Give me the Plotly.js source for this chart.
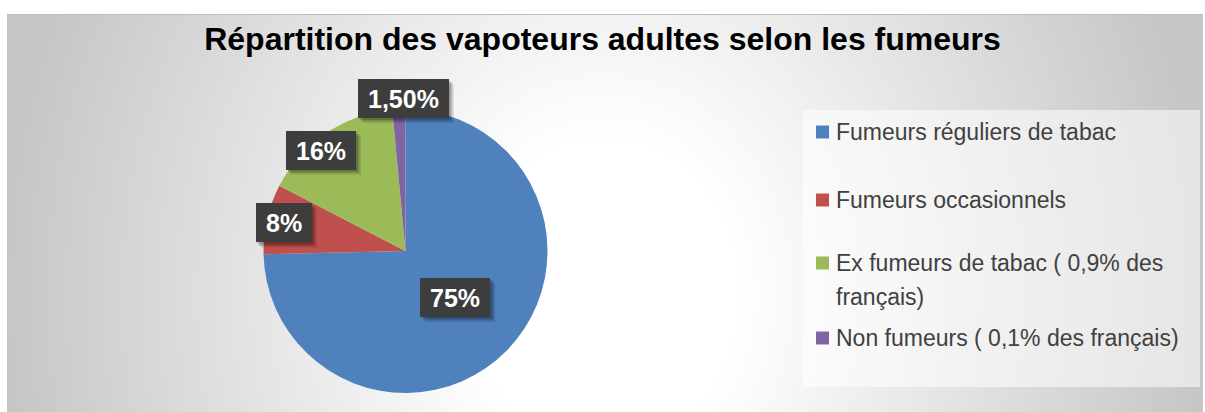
<!DOCTYPE html>
<html><head><meta charset="utf-8">
<script src="https://cdn.plot.ly/plotly-3.0.1.min.js"></script>
<style>
html,body{margin:0;padding:0;background:#fff;}
#wrap{position:relative;width:1205px;height:412px;overflow:hidden;}
#bg{position:absolute;left:7px;top:14px;width:1196px;height:400px;box-sizing:border-box;border-top:1px solid #bdbdbd;
 background:radial-gradient(ellipse 600px 700px at 50% 70%, #ffffff 0%, #ffffff 22%, #c6c6c6 100%);}
#chart{position:absolute;left:0;top:0;width:1205px;height:412px;}
</style></head>
<body><div id="wrap"><div id="bg"></div><div id="chart"></div></div>
<script>
// ---- data ----
const titleText = "Répartition des vapoteurs adultes selon les fumeurs";
const categories = ["Fumeurs réguliers de tabac", "Fumeurs occasionnels", "Ex fumeurs de tabac ( 0,9% des français)", "Non fumeurs ( 0,1% des français)"];
const values = [75, 8, 16, 1.5];
const valueLabels = ["75%", "8%", "16%", "1,50%"];
const colors = ["#4F81BD", "#C0504D", "#9BBB59", "#8064A2"];

// ---- layout / style ----
const W = 1205, H = 412;
const pie = {cx: 405.5, cy: 251, r: 142};
const labelRadius = [0.49, 0.88, 0.925, 1.075];
const labelNudge = [[0, -2], [0, 0], [-11, 8], [5, 0]];
const legendRows = [132, 200, 263, 338];
const legendLineGap = 34;
const legendTextX = 834, legendSwatchX = 816, swatch = 13;
const legendBox = {x0: 803, x1: 1200, y0: 110, y1: 387};
const labelFont = {family: "Arial, Liberation Sans, sans-serif", size: 25, color: "#ffffff", weight: "bold"};
const legendFont = {family: "Arial, Liberation Sans, sans-serif", size: 23, color: "#404040"};
const boxPadX = 10, boxH = 39, pad = 4;

const px = x => x / W, py = y => 1 - y / H;

function wrap(text, maxChars) {
  const words = text.split(" "), lines = [];
  let cur = "";
  for (const w of words) {
    const t = cur ? cur + " " + w : w;
    if (t.length > maxChars && cur) { lines.push(cur); cur = w; } else cur = t;
  }
  if (cur) lines.push(cur);
  return lines;
}

const ctx = document.createElement("canvas").getContext("2d");
ctx.font = "bold 25px Arial, 'Liberation Sans', sans-serif";

const total = values.reduce((a, b) => a + b, 0);
const annotations = [];
const shapes = [];
let cum = 0;
values.forEach((v, i) => {
  const mid = (cum + v / 2) / total * 2 * Math.PI;
  cum += v;
  const d = labelRadius[i] * pie.r;
  const x = pie.cx + Math.sin(mid) * d + labelNudge[i][0];
  const y = pie.cy - Math.cos(mid) * d + labelNudge[i][1];
  const tw = ctx.measureText(valueLabels[i]).width;
  const bw = tw + 2 * boxPadX;
  // soft shadow of the label box
  [[5, 0.10], [3.5, 0.14], [2, 0.18]].forEach(([o, a]) => {
    shapes.push({type: "rect", xref: "paper", yref: "paper", layer: "above",
      x0: px(x - bw / 2 + o), x1: px(x + bw / 2 + o), y0: py(y + boxH / 2 + o), y1: py(y - boxH / 2 + o),
      fillcolor: "rgba(0,0,0," + a + ")", line: {width: 0}});
  });
  annotations.push({xref: "paper", yref: "paper", xanchor: "center", yanchor: "middle", showarrow: false,
    x: px(x), y: py(y), text: valueLabels[i], font: labelFont, bgcolor: "#3d3d3d",
    borderpad: pad, borderwidth: 0, width: bw - 2 * pad, height: boxH - 2 * pad});
});

// legend box
shapes.push({type: "rect", xref: "paper", yref: "paper", x0: px(legendBox.x0), x1: px(legendBox.x1),
  y0: py(legendBox.y1), y1: py(legendBox.y0), fillcolor: "rgba(255,255,255,0.55)", line: {width: 0}, layer: "below"});

categories.forEach((c, i) => {
  const yRow = legendRows[i];
  shapes.push({type: "rect", xref: "paper", yref: "paper",
    x0: px(legendSwatchX), x1: px(legendSwatchX + swatch),
    y0: py(yRow + swatch / 2), y1: py(yRow - swatch / 2), fillcolor: colors[i], line: {width: 0}});
  wrap(c, 33).forEach((line, k) => {
    annotations.push({x: px(legendTextX), y: py(yRow + k * legendLineGap), xref: "paper", yref: "paper",
      xanchor: "left", yanchor: "middle", showarrow: false, text: line, font: legendFont});
  });
});

const trace = {
  type: "pie",
  labels: categories,
  values: values,
  sort: false,
  direction: "clockwise",
  rotation: 0,
  marker: {colors: colors, line: {width: 0}},
  textinfo: "none",
  hoverinfo: "label+percent",
  showlegend: false,
  domain: {x: [px(pie.cx - pie.r), px(pie.cx + pie.r)], y: [py(pie.cy + pie.r), py(pie.cy - pie.r)]}
};

const layout = {
  width: W, height: H,
  margin: {l: 0, r: 0, t: 0, b: 0},
  paper_bgcolor: "rgba(0,0,0,0)",
  plot_bgcolor: "rgba(0,0,0,0)",
  showlegend: false,
  title: {text: titleText, x: 0.5, xanchor: "center", y: py(39), yanchor: "middle",
    font: {family: "Arial, Liberation Sans, sans-serif", size: 32, color: "#000000", weight: "bold"}},
  annotations: annotations,
  shapes: shapes
};

Plotly.newPlot("chart", [trace], layout, {displayModeBar: false, staticPlot: true});
</script>
</body></html>
